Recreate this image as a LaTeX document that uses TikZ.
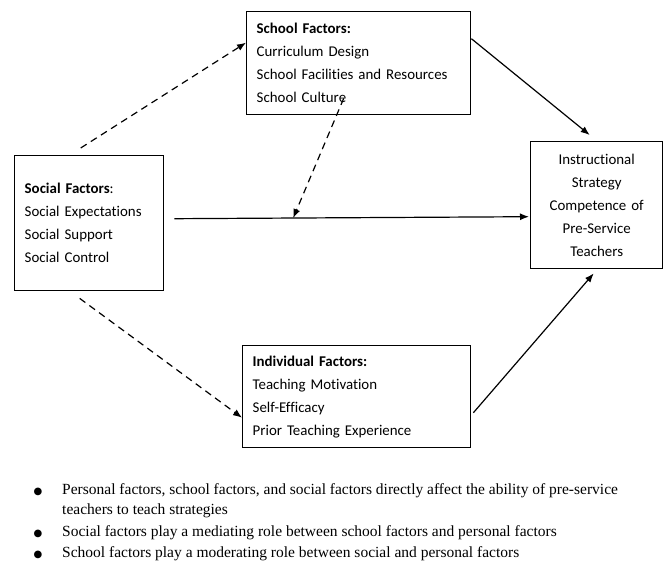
\documentclass[tikz,border=0pt]{standalone}
\usepackage{fontspec}
\setmainfont{Liberation Serif}
\newfontfamily\boxfont[Ligatures=NoCommon]{Carlito}
\newfontfamily\symfont{DejaVu Sans}
\usetikzlibrary{arrows.meta,calc}
\begin{document}
\begin{tikzpicture}[x=1pt,y=-1pt,
  factorbox/.style={draw, line width=1.4pt, anchor=north west,
    font=\boxfont\fontsize{14.9}{23}\selectfont,
    align=left, inner xsep=10pt, inner ysep=0pt},
  solidarrow/.style={line width=1.2pt, -{Latex[length=9pt,width=7pt]}},
  dasharrow/.style={line width=1.2pt, dash pattern=on 7pt off 5pt, -{Latex[length=9pt,width=7pt]}},
  bullettext/.style={anchor=base west, inner sep=0pt, font=\fontsize{15.5}{18}\selectfont},
  bulletmark/.style={anchor=base, inner sep=0pt, font=\symfont\fontsize{10}{12}\selectfont}]
\path[use as bounding box] (0,0) rectangle (667,562);

\node[factorbox, text width=204pt, minimum height=103pt] (school) at (246,11)
  {\textbf{School Factors:}\\Curriculum Design\\School Facilities and Resources\\School Culture};
\node[factorbox, text width=129pt, minimum height=135pt] (social) at (14,155)
  {\textbf{Social Factors}:\\Social Expectations\\Social Support\\Social Control};
\node[factorbox, text width=208pt, minimum height=102pt] (indiv) at (242,345)
  {\textbf{Individual Factors:}\\Teaching Motivation\\Self-Efficacy\\Prior Teaching Experience};
\node[factorbox, align=center, text width=112pt, minimum height=127pt] (instr) at (530,141)
  {Instructional\\Strategy\\Competence of\\Pre-Service\\Teachers};

% main direct path
\coordinate (mainstart) at ($(social.east)+(10,-4.5)$);
\coordinate (mainend) at ($(instr.west)+(-1,11.5)$);
\draw[solidarrow] (mainstart) -- (mainend);
\coordinate (moderate) at ($(mainstart)!0.335!(mainend)$);

\draw[dasharrow] ($(social.north)+(-8.5,-7)$) -- ($(school.west)+(0,-20.5)$);
\draw[solidarrow] ($(school.east)+(0,-24.5)$) -- ($(instr.north)+(-7,-6)$);
\draw[dasharrow] ($(school.south)+(-15,-17)$) -- (moderate);
\draw[dasharrow] ($(social.south)+(-9.5,7)$) -- ($(indiv.west)+(0,21)$);
\draw[solidarrow] ($(indiv.east)+(2,16)$) -- ($(instr.south)+(-3,4)$);

% bullet notes
\node[bulletmark] (m1) at (38,494) {●};
\node[bullettext] (t1a) at (62,494) {Personal factors, school factors, and social factors directly affect the ability of pre-service};
\node[bullettext] (t1b) at (62,514) {teachers to teach strategies};
\node[bulletmark] (m2) at (38,536) {●};
\node[bullettext] (t2) at (62,536) {Social factors play a mediating role between school factors and personal factors};
\node[bulletmark] (m3) at (38,557) {●};
\node[bullettext] (t3) at (62,557) {School factors play a moderating role between social and personal factors};
\end{tikzpicture}
\end{document}
